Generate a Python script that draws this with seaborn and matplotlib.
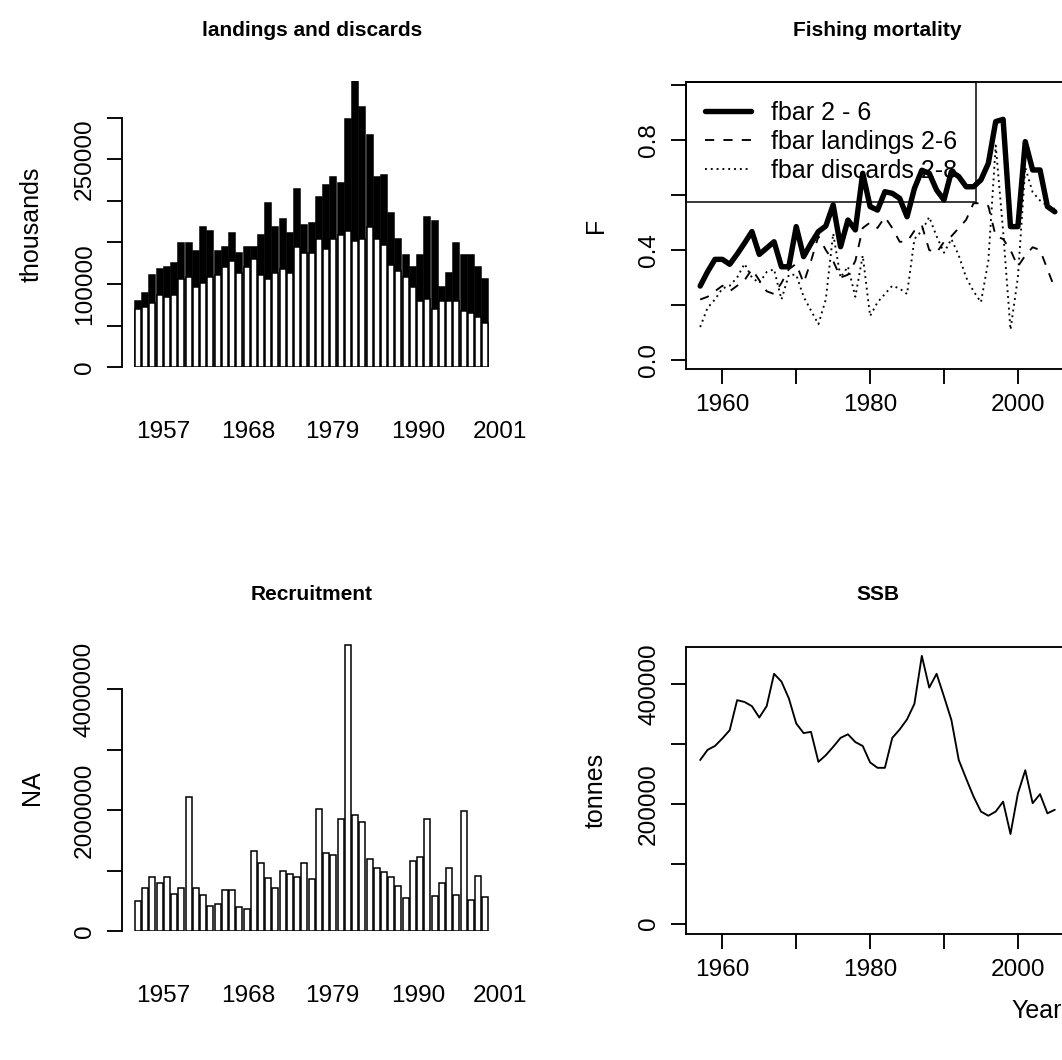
import matplotlib
matplotlib.use("Agg")
import matplotlib.pyplot as plt
import seaborn as sns
import pandas as pd

# ---------------- data ----------------
years = list(range(1957, 2006))

landings = [70500, 72900, 77300, 86900, 84900, 86900, 106200, 108600, 96500, 101400,
            108600, 111000, 120600, 127800, 113400, 120600, 130200, 111000, 106200, 113400,
            118200, 113400, 144600, 137400, 137400, 154200, 142200, 154200, 159000, 163800,
            151800, 154200, 168700, 154200, 147000, 123000, 115800, 108600, 96500, 80100,
            82100, 70500, 80100, 80100, 80100, 67700, 65300, 60500, 53300]
discards = [9200, 16000, 33300, 30900, 35300, 38500, 42800, 40400, 43300, 67300,
            54800, 28800, 24000, 33200, 24000, 24000, 14400, 48000, 91300, 55300,
            59700, 47600, 69700, 33700, 35700, 50500, 76900, 74500, 62500, 134200,
            192300, 158700, 110100, 74500, 83700, 62100, 38400, 26400, 24100, 54900,
            98600, 105400, 16400, 33300, 68900, 67300, 69700, 60100, 52500]

recruitment = [500000, 720000, 900000, 800000, 900000, 620000, 720000, 2220000, 720000, 600000,
               420000, 450000, 680000, 680000, 400000, 360000, 1330000, 1130000, 880000, 720000,
               1000000, 950000, 900000, 1130000, 860000, 2020000, 1290000, 1260000, 1855000, 4730000,
               1920000, 1800000, 1190000, 1040000, 980000, 900000, 750000, 550000, 1166000, 1230000,
               1855000, 580000, 800000, 1040000, 600000, 1986000, 520000, 920000, 570000]

fbar = [0.269, 0.321, 0.366, 0.366, 0.348, 0.385, 0.425, 0.467, 0.384, 0.407,
        0.430, 0.339, 0.339, 0.485, 0.376, 0.424, 0.467, 0.487, 0.564, 0.412,
        0.509, 0.473, 0.679, 0.558, 0.545, 0.612, 0.606, 0.588, 0.521, 0.624,
        0.690, 0.679, 0.618, 0.582, 0.685, 0.667, 0.630, 0.630, 0.655, 0.715,
        0.867, 0.875, 0.485, 0.485, 0.794, 0.691, 0.691, 0.558, 0.539]
fbar_landings = [0.22, 0.23, 0.25, 0.27, 0.25, 0.27, 0.29, 0.33, 0.29, 0.25,
                 0.24, 0.28, 0.33, 0.35, 0.28, 0.36, 0.45, 0.40, 0.36, 0.30,
                 0.31, 0.36, 0.48, 0.50, 0.48, 0.52, 0.48, 0.43, 0.43, 0.47,
                 0.49, 0.40, 0.39, 0.43, 0.45, 0.48, 0.51, 0.57, 0.57, 0.56,
                 0.45, 0.44, 0.40, 0.34, 0.38, 0.41, 0.40, 0.33, 0.26]
fbar_discards = [0.12, 0.19, 0.22, 0.26, 0.27, 0.30, 0.35, 0.30, 0.28, 0.32,
                 0.33, 0.22, 0.31, 0.31, 0.23, 0.18, 0.13, 0.22, 0.46, 0.30,
                 0.34, 0.23, 0.38, 0.16, 0.21, 0.24, 0.27, 0.26, 0.24, 0.44,
                 0.47, 0.52, 0.45, 0.39, 0.44, 0.38, 0.30, 0.25, 0.21, 0.36,
                 0.78, 0.47, 0.11, 0.30, 0.70, 0.61, 0.58, 0.56, 0.55]

ssb = [273000, 290000, 296500, 309000, 323000, 373000, 370000, 363000, 344000, 363000,
       417000, 404000, 376000, 334000, 318000, 320000, 270000, 281000, 295000, 310000,
       316000, 303000, 296500, 269000, 260000, 260000, 310000, 324000, 341000, 367000,
       447000, 394000, 417000, 379000, 340000, 273000, 242000, 212000, 187000, 180000,
       187000, 203500, 149500, 217000, 256000, 201000, 216000, 184000, 190000]

bar_labels = ["1957", "1968", "1979", "1990", "2001"]
legend_labels = ["fbar 2 - 6", "fbar landings 2-6", "fbar discards 2-8"]

# ---------------- style ----------------
sns.set_theme(style="ticks", rc={
    "axes.edgecolor": "black", "text.color": "black", "axes.labelcolor": "black",
    "xtick.color": "black", "ytick.color": "black",
    "lines.solid_capstyle": "round", "lines.solid_joinstyle": "round",
    "figure.facecolor": "white", "axes.facecolor": "white",
})
plt.rcParams["font.family"] = ["Liberation Sans", "DejaVu Sans"]

W, H = 1062, 1060
fig = plt.figure(figsize=(W / 100, H / 100), dpi=100)


def add_ax(x0, y0, x1, y1):
    return fig.add_axes([x0 / W, 1 - y1 / H, (x1 - x0) / W, (y1 - y0) / H])


LW = 1.35
TICK_FS = 17.6
LAB_FS = 18
TITLE_FS = 15
TICK_LEN = 10.8


def y_ticks(ax, ticks, labels):
    ax.set_yticks(ticks, labels=labels)
    ax.tick_params(axis="y", left=True, length=TICK_LEN, width=LW, pad=7.9,
                   labelsize=TICK_FS, labelrotation=90, direction="out")
    for t in ax.get_yticklabels():
        t.set_va("center")


def set_title(ax, text, top_px, box_h, title_px):
    ax.set_title(text, fontsize=TITLE_FS, fontweight="bold",
                 y=1 + (top_px - title_px) / box_h, va="center", pad=0)


def bar_panel(ax, frame, cols_colors, ymax, yt, ytl, ttl, ylab, top_px, box_h, title_px):
    for col, colr in cols_colors:
        sns.barplot(data=frame, x="year", y=col, color=colr, width=0.833,
                    edgecolor="black", linewidth=1.1, saturation=1,
                    errorbar=None, ax=ax)
    ax.set_xlim(-2.255, 50.365)
    ax.set_ylim(0, ymax)
    for s in ["top", "right", "bottom"]:
        ax.spines[s].set_visible(False)
    ax.spines["left"].set_linewidth(LW)
    ax.spines["left"].set_bounds(yt[0], yt[-1])
    y_ticks(ax, yt, ytl)
    ax.set_xticks([3.45, 15.2, 26.8, 38.7, 50.0], labels=bar_labels)
    ax.tick_params(axis="x", bottom=True, length=0, pad=39, labelsize=TICK_FS)
    ax.set_xlabel("")
    ax.set_ylabel(ylab, fontsize=LAB_FS, va="center")
    ax.yaxis.set_label_coords((31.7 - 121.7) / 380.7, 0.5)
    set_title(ax, ttl, top_px, box_h, title_px)


# ---------------- panel 1: landings and discards ----------------
ax1 = add_ax(121.7, 81.0, 502.4, 367.3)
df_c = pd.DataFrame({"year": [str(y) for y in years],
                     "landings": landings,
                     "total": [l + d for l, d in zip(landings, discards)]})
bar_panel(ax1, df_c, [("total", "black"), ("landings", "white")], 344100,
          [0, 50000, 100000, 150000, 200000, 250000, 300000],
          ["0", "", "100000", "", "", "250000", ""],
          "landings and discards", "thousands", 81.0, 286.3, 30)

# ---------------- panel 3: recruitment ----------------
ax3 = add_ax(121.7, 643.6, 502.4, 931.3)
df_r = pd.DataFrame({"year": [str(y) for y in years], "rec": recruitment})
bar_panel(ax3, df_r, [("rec", "white")], 4750000,
          [0, 1000000, 2000000, 3000000, 4000000],
          ["0", "", "2000000", "", "4000000"],
          "Recruitment", "NA", 643.6, 287.7, 594)


# ---------------- line panels ----------------
def line_box(ax, ylim):
    ax.set_xlim(1955.08, 2006.92)
    ax.set_ylim(*ylim)
    for s in ax.spines.values():
        s.set_linewidth(LW)
        s.set_visible(True)
    ax.set_xticks([1960, 1970, 1980, 1990, 2000],
                  labels=["1960", "", "1980", "", "2000"])
    ax.tick_params(axis="x", bottom=True, length=TICK_LEN, width=LW, pad=7,
                   labelsize=TICK_FS, direction="out")


ax2 = add_ax(686, 82, 1069, 369)
sns.lineplot(x=years, y=fbar, ax=ax2, color="black", linewidth=3.9,
             label=legend_labels[0], zorder=3)
sns.lineplot(x=years, y=fbar_landings, ax=ax2, color="black", linewidth=LW,
             label=legend_labels[1], zorder=3)
ax2.lines[-1].set_dashes((4.9, 4.9))
sns.lineplot(x=years, y=fbar_discards, ax=ax2, color="black", linewidth=LW,
             label=legend_labels[2], zorder=3)
ax2.lines[-1].set_dashes((1, 2.1))
line_box(ax2, (-0.0327, 1.0109))
y_ticks(ax2, [0, 0.2, 0.4, 0.6, 0.8, 1.0], ["0.0", "", "0.4", "", "0.8", ""])
ax2.set_ylabel("F", fontsize=LAB_FS, va="center")
ax2.yaxis.set_label_coords((596 - 686) / 383, 0.5)
ax2.set_xlabel("")
leg = ax2.legend(loc="upper left", bbox_to_anchor=(0, 1), borderaxespad=0,
                 frameon=True, fancybox=False, edgecolor="black", facecolor="none",
                 fontsize=LAB_FS, handlelength=1.85, handletextpad=0.8,
                 borderpad=0.75, labelspacing=0.2)
leg.get_frame().set_linewidth(LW)
leg.set_zorder(1)
set_title(ax2, "Fishing mortality", 82, 287, 30)

ax4 = add_ax(686, 646.5, 1069, 934)
sns.lineplot(x=years, y=ssb, ax=ax4, color="black", linewidth=LW)
line_box(ax4, (-17500, 462600))
y_ticks(ax4, [0, 100000, 200000, 300000, 400000],
        ["0", "", "200000", "", "400000"])
ax4.set_ylabel("tonnes", fontsize=LAB_FS, va="center")
ax4.yaxis.set_label_coords((596 - 686) / 383, 0.5)
ax4.set_xlabel("Year", fontsize=LAB_FS, va="center")
ax4.xaxis.set_label_coords((1037 - 686) / 383, (934 - 1011) / 287.5)
set_title(ax4, "SSB", 646.5, 287.5, 594)

fig.savefig("out.png", dpi=100)
